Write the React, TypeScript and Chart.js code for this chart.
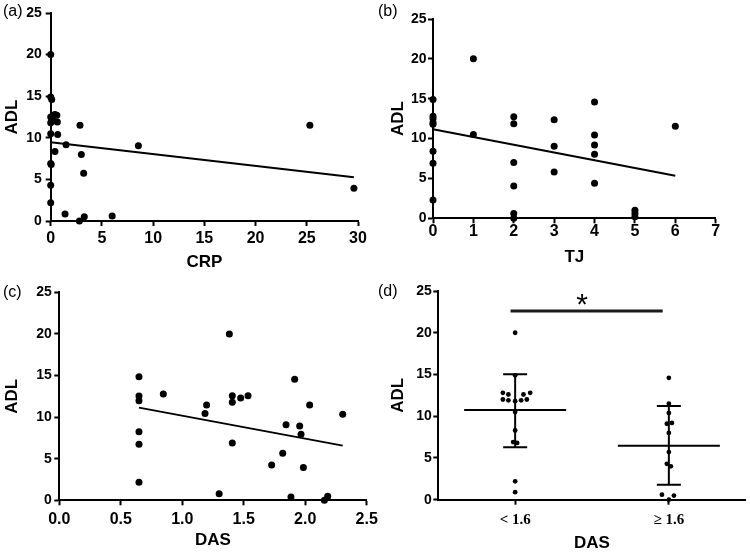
import React, { useEffect, useRef } from 'react';
import { Chart, registerables } from 'chart.js';
Chart.register(...registerables);

const SANS = "'Liberation Sans', Arial, sans-serif";
const SERIF = "'Liberation Serif', 'Times New Roman', serif";

// ---------- data ----------
const yMin = 0;
const yMax = 25;
const yStep = 5;

// (a) CRP vs ADL
const crpX = [0, 0, 0.1, 0, 0.1, 0.2, 0.4, 0.6, 0.65, 0, 0, 0.68, 0.42, 0, 0.05, 0, 0, 1.5, 1.4, 2.86, 2.99, 3.22, 2.8, 3.28, 6.0, 8.56, 25.3, 29.6];
const crpY = [20.0, 14.9, 14.6, 12.5, 12.0, 12.3, 12.8, 12.7, 11.9, 11.8, 10.5, 10.4, 8.35, 6.9, 6.8, 4.3, 2.2, 9.15, 0.84, 11.5, 8.0, 5.74, 0, 0.52, 0.6, 9.03, 11.5, 3.95];
const crpFitX = [0, 29.6];
const crpFitY = [9.47, 5.26];

// (b) TJ vs ADL
const tjX = [0, 0, 0, 0, 0, 0, 0, 0, 1, 1, 2, 2, 2, 2, 2, 2, 3, 3, 3, 4, 4, 4, 4, 4, 5, 5, 5, 6];
const tjY = [14.9, 12.8, 12.5, 12.0, 11.8, 8.4, 6.9, 2.3, 20, 10.5, 12.75, 11.85, 7.0, 4.05, 0.6, 0, 12.35, 9.05, 5.8, 14.6, 10.45, 9.2, 8.05, 4.4, 1.0, 0.6, 0.2, 11.55];
const tjFitX = [0, 6];
const tjFitY = [11.16, 5.35];

// (c) DAS vs ADL
const dasX = [0.648, 0.648, 0.648, 0.648, 0.648, 0.648, 0.846, 1.185, 1.198, 1.30, 1.383, 1.407, 1.407, 1.407, 1.475, 1.535, 1.727, 1.817, 1.844, 1.884, 1.914, 1.955, 1.966, 1.985, 2.036, 2.156, 2.183, 2.305];
const dasY = [14.86, 12.54, 11.98, 8.25, 6.73, 2.16, 12.78, 10.42, 11.46, 0.80, 19.99, 12.58, 11.78, 6.89, 12.30, 12.58, 4.25, 5.65, 9.09, 0.40, 14.54, 8.93, 7.93, 3.93, 11.46, 0, 0.48, 10.34];
const dasFitX = [0.648, 2.305];
const dasFitY = [11.14, 6.57];

// (d) DAS groups
const dCategories = ['< 1.6', '≥ 1.6'];
const dPositions = [0.5, 1.5];
const dLowX = [0.5, 0.5, 0.42, 0.456, 0.554, 0.598, 0.42, 0.456, 0.5, 0.539, 0.576, 0.5, 0.5, 0.487, 0.513, 0.5, 0.5];
const dLowY = [20.0, 14.9, 12.8, 12.6, 12.6, 12.8, 12.0, 11.9, 11.8, 11.9, 12.0, 10.5, 8.3, 6.9, 6.8, 2.2, 0.9];
const dHighX = [1.5, 1.5, 1.5, 1.487, 1.52, 1.5, 1.5, 1.487, 1.513, 1.455, 1.533, 1.5];
const dHighY = [14.6, 11.5, 10.4, 9.1, 9.2, 8.0, 5.7, 4.3, 4.0, 0.6, 0.5, 0];
const dMean = [10.74, 6.47];
const dSdUpper = [15.02, 11.22];
const dSdLower = [6.27, 1.8];
const sigBarX = [0.47, 1.46];
const sigBarY = 22.6;
const sigStarX = 0.936;
const sigStarY = 23.2;
const sigText = '*';

// ---------- helpers ----------
const pts = (xs: number[], ys: number[]) => xs.map((x, i) => ({ x, y: ys[i] }));

const dotSet = (xs: number[], ys: number[], r: number) => ({
  data: pts(xs, ys),
  pointRadius: r,
  pointBackgroundColor: '#000',
  pointBorderWidth: 0,
  showLine: false,
  clip: false,
});

const fitSet = (xs: number[], ys: number[]) => ({
  data: pts(xs, ys),
  showLine: true,
  borderColor: '#000',
  borderWidth: 2,
  pointRadius: 0,
  clip: false,
});

const panelLabelPlugin = {
  id: 'panelLabel',
  afterDraw(chart: any, _a: any, opts: any) {
    const ctx = chart.ctx;
    ctx.save();
    ctx.fillStyle = '#000';
    ctx.font = `16px ${SANS}`;
    ctx.textBaseline = 'middle';
    ctx.textAlign = 'left';
    ctx.fillText(opts.text, opts.x, opts.y);
    ctx.restore();
  },
};

const meanSdPlugin = {
  id: 'meanSd',
  afterDatasetsDraw(chart: any, _a: any, opts: any) {
    if (!opts || !opts.enabled) return;
    const { ctx, scales } = chart;
    const x = scales.x, y = scales.y;
    ctx.save();
    ctx.strokeStyle = '#000';
    ctx.lineWidth = 2;
    dPositions.forEach((p, i) => {
      const cx = x.getPixelForValue(p);
      const ym = y.getPixelForValue(dMean[i]);
      const yu = y.getPixelForValue(dSdUpper[i]);
      const yl = y.getPixelForValue(dSdLower[i]);
      ctx.beginPath();
      ctx.moveTo(cx - opts.meanHalf, ym);
      ctx.lineTo(cx + opts.meanHalf, ym);
      ctx.moveTo(cx, yu);
      ctx.lineTo(cx, yl);
      ctx.moveTo(cx - opts.capHalf, yu);
      ctx.lineTo(cx + opts.capHalf, yu);
      ctx.moveTo(cx - opts.capHalf, yl);
      ctx.lineTo(cx + opts.capHalf, yl);
      ctx.stroke();
    });
    // significance bar
    ctx.strokeStyle = '#1a1a1a';
    ctx.lineWidth = 3;
    ctx.beginPath();
    ctx.moveTo(x.getPixelForValue(sigBarX[0]), y.getPixelForValue(sigBarY));
    ctx.lineTo(x.getPixelForValue(sigBarX[1]), y.getPixelForValue(sigBarY));
    ctx.stroke();
    ctx.fillStyle = '#000';
    ctx.font = `30px ${SANS}`;
    ctx.textAlign = 'center';
    ctx.textBaseline = 'middle';
    ctx.fillText(sigText, x.getPixelForValue(sigStarX), y.getPixelForValue(sigStarY));
    ctx.restore();
  },
};

type PanelCfg = {
  left: number; top: number; w: number; h: number;
  L: number; R: number; T: number; B: number;
  xMin: number; xMax: number; xStep?: number;
  xTitle: string; label: string; labelX: number; labelY: number;
  xTickPad: number; yTickPad: number; yTitlePad: number; xTitlePad: number;
  datasets: any[];
  decimals?: number;
  categorical?: boolean;
};

function buildConfig(p: PanelCfg): any {
  const axisGrid = {
    display: true,
    drawOnChartArea: false,
    drawTicks: true,
    tickLength: 5,
    tickWidth: 2,
    tickColor: '#000',
  };
  const axisBorder = { display: true, color: '#000', width: 2 };
  const xTicks: any = {
    color: '#000',
    padding: p.xTickPad,
    maxRotation: 0,
    autoSkip: false,
    font: p.categorical
      ? { family: SERIF, size: 15, weight: 'bold' }
      : { family: SANS, size: 16, weight: 'bold' },
  };
  if (p.categorical) {
    xTicks.callback = (_v: any, i: number) => dCategories[i];
  } else {
    xTicks.stepSize = p.xStep;
    if (p.decimals !== undefined) xTicks.callback = (v: number) => Number(v).toFixed(p.decimals);
  }
  return {
    type: 'scatter',
    data: { datasets: p.datasets },
    plugins: [panelLabelPlugin, meanSdPlugin],
    options: {
      responsive: false,
      animation: false,
      events: [],
      layout: { padding: { left: 0, top: p.T, right: p.w - p.R, bottom: 0 } },
      plugins: {
        legend: { display: false },
        tooltip: { enabled: false },
        panelLabel: { text: p.label, x: p.labelX, y: p.labelY },
        meanSd: { enabled: !!p.categorical, meanHalf: 51, capHalf: 12 },
      },
      scales: {
        x: {
          type: 'linear',
          position: 'bottom',
          min: p.xMin,
          max: p.xMax,
          ticks: xTicks,
          grid: axisGrid,
          border: axisBorder,
          title: {
            display: true,
            text: p.xTitle,
            color: '#000',
            font: { family: SANS, size: 17, weight: 'bold' },
            padding: { top: 0, bottom: p.xTitlePad },
          },
          afterBuildTicks: p.categorical
            ? (s: any) => { s.ticks = dPositions.map((v) => ({ value: v })); }
            : undefined,
          afterFit: (s: any) => {
            s.height = p.h - p.B;
            s.paddingLeft = 0;
            s.paddingRight = 0;
          },
        },
        y: {
          type: 'linear',
          position: 'left',
          min: yMin,
          max: yMax,
          ticks: {
            stepSize: yStep,
            color: '#000',
            padding: p.yTickPad,
            font: { family: SANS, size: 14, weight: 'bold' },
          },
          grid: axisGrid,
          border: axisBorder,
          title: {
            display: true,
            text: 'ADL',
            color: '#000',
            font: { family: SANS, size: 17, weight: 'bold' },
            padding: { top: p.yTitlePad, bottom: 0 },
          },
          afterFit: (s: any) => {
            s.width = p.L;
            s.paddingTop = 0;
            s.paddingBottom = 0;
          },
        },
      },
    },
  };
}

const panels: PanelCfg[] = [
  {
    left: 0, top: 0, w: 375, h: 280, L: 50.7, R: 358, T: 13, B: 221,
    xMin: 0, xMax: 30, xStep: 5, xTitle: 'CRP', label: '(a)', labelX: 3, labelY: 12,
    xTickPad: 3.4, yTickPad: 4, yTitlePad: 1.8, xTitlePad: 7.8,
    datasets: [dotSet(crpX, crpY, 3.5), fitSet(crpFitX, crpFitY)],
  },
  {
    left: 375, top: 0, w: 375, h: 280, L: 58, R: 340.7, T: 19, B: 218.3,
    xMin: 0, xMax: 7, xStep: 1, xTitle: 'TJ', label: '(b)', labelX: 3, labelY: 12,
    xTickPad: -1, yTickPad: 1.5, yTitlePad: 12.8, xTitlePad: 12.8,
    datasets: [dotSet(tjX, tjY, 3.5), fitSet(tjFitX, tjFitY)],
  },
  {
    left: 0, top: 280, w: 385, h: 279, L: 59.3, R: 366.7, T: 12.3, B: 220.3,
    xMin: 0, xMax: 2.5, xStep: 0.5, decimals: 1, xTitle: 'DAS', label: '(c)', labelX: 3, labelY: 13,
    xTickPad: 5.1, yTickPad: 2.6, yTitlePad: 2.3, xTitlePad: 8.8,
    datasets: [dotSet(dasX, dasY, 3.5), fitSet(dasFitX, dasFitY)],
  },
  {
    left: 375, top: 280, w: 375, h: 279, L: 63.3, R: 370.7, T: 11, B: 219.7,
    xMin: 0, xMax: 2, xTitle: 'DAS', label: '(d)', labelX: 3, labelY: 12, categorical: true,
    xTickPad: 6.3, yTickPad: 1.6, yTitlePad: 12.8, xTitlePad: 5.8,
    datasets: [dotSet(dLowX, dLowY, 2.4), dotSet(dHighX, dHighY, 2.4)],
  },
];

function Panel({ cfg }: { cfg: PanelCfg }) {
  const ref = useRef<HTMLCanvasElement | null>(null);
  useEffect(() => {
    if (!ref.current) return;
    const chart = new Chart(ref.current, buildConfig(cfg));
    return () => chart.destroy();
  }, [cfg]);
  return (
    <canvas
      ref={ref}
      width={cfg.w}
      height={cfg.h}
      style={{ position: 'absolute', left: cfg.left, top: cfg.top, width: cfg.w, height: cfg.h }}
    />
  );
}

export default function App() {
  return (
    <div
      style={{
        position: 'absolute',
        left: 0,
        top: 0,
        width: 750,
        height: 559,
        background: '#fff',
        overflow: 'hidden',
      }}
    >
      {panels.map((p, i) => (
        <Panel key={i} cfg={p} />
      ))}
    </div>
  );
}
